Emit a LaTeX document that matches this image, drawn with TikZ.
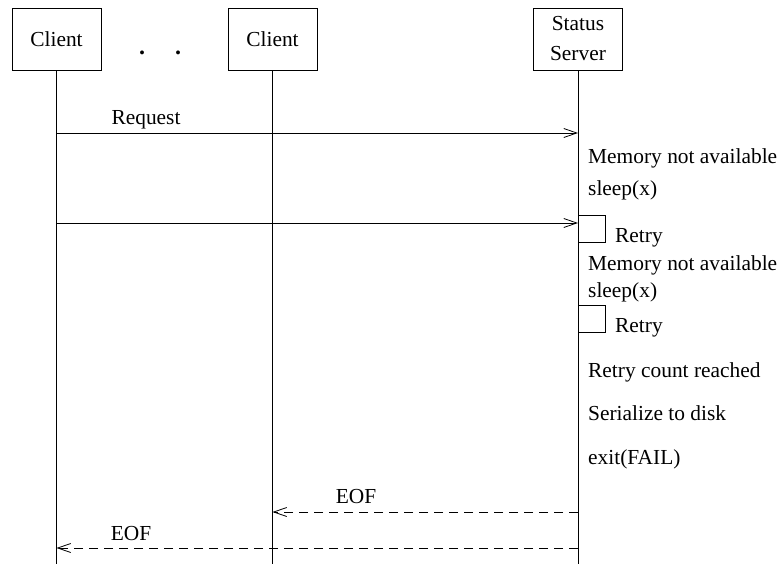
\documentclass[tikz,border=0pt]{standalone}
\usepackage{fontspec}
\setmainfont{Liberation Serif}
\usetikzlibrary{arrows.meta}

\begin{document}
\begin{tikzpicture}[x=1pt,y=-1pt,
  font=\fontsize{21.4}{30}\selectfont,
  actor/.style={draw, line width=0.9pt, minimum width=89pt, minimum height=62pt, inner sep=0pt, align=center},
  life/.style={line width=1pt},
  msg/.style={line width=0.8pt, -{Straight Barb[length=13pt,width=9pt]}},
  reply/.style={msg, dash pattern=on 9pt off 6pt},
  note/.style={anchor=base west, inner sep=0pt},
  lbl/.style={anchor=base, inner sep=0pt}]
\useasboundingbox (0,0) rectangle (779,564);
% Actors
\node[actor] (cla) at (56.5,39) {Client};
\node[actor] (clb) at (272.5,39) {Client};
\node[actor] (srv) at (578,39) {Status\\Server};
\node[lbl, font=\fontsize{24}{30}\selectfont\bfseries] (dota) at (142,55) {.};
\node[lbl, font=\fontsize{24}{30}\selectfont\bfseries] (dotb) at (178,55) {.};

% lifelines
\coordinate (claend) at (56.5,564);
\coordinate (clbend) at (272.5,564);
\coordinate (srvend) at (578,564);
\draw[life] (cla.south) -- (claend);
\draw[life] (clb.south) -- (clbend);
\draw[life] (srv.south) -- (srvend);

% message points
\coordinate (clareq) at (56.5,133);
\coordinate (srvreq) at (578,133);
\coordinate (clarty) at (56.5,223);
\coordinate (srvrty) at (578,223);
\coordinate (srveofb) at (578,512);
\coordinate (clbeof) at (272.5,512);
\coordinate (srveofa) at (578,548);
\coordinate (claeof) at (56.5,548);

% requests
\draw[msg] (clareq) -- (srvreq);
\node[lbl] (req) at (146,125) {Request};
\draw[msg] (clarty) -- (srvrty);

% server side
\node[note] (nomema) at (588,164) {Memory not available};
\node[note] (sleepa) at (588,196) {sleep(x)};
\draw[line width=0.8pt] (578,215) -- (605,215) -- (605,242) -- (578,242);
\node[note] (retrya) at (615,243) {Retry};
\node[note] (nomemb) at (588,270) {Memory not available};
\node[note] (sleepb) at (588,297) {sleep(x)};
\draw[line width=0.8pt] (578,305) -- (605,305) -- (605,332) -- (578,332);
\node[note] (retryb) at (615,332) {Retry};
\node[note] (count) at (588,377) {Retry count reached};
\node[note] (disk) at (588,420) {Serialize to disk};
\node[note] (fail) at (588,464) {exit(FAIL)};

% replies
\draw[reply] (srveofb) -- (clbeof);
\node[lbl] (eofb) at (356,503) {EOF};
\draw[reply] (srveofa) -- (claeof);
\node[lbl] (eofa) at (131,540) {EOF};
\end{tikzpicture}
\end{document}
